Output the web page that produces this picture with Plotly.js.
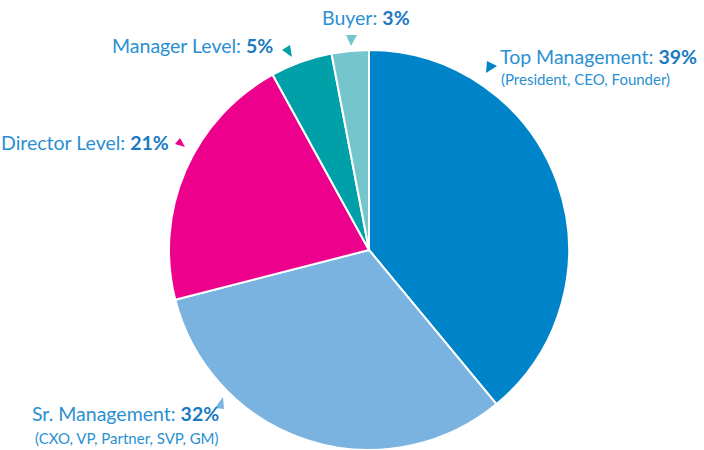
<!DOCTYPE html>
<html>
<head>
<meta charset="utf-8">
<script src="https://cdn.plot.ly/plotly-3.0.1.min.js"></script>
<style>html,body{margin:0;padding:0;background:#fff}#chart{width:704px;height:450px}</style>
</head>
<body>
<div id="chart"></div>
<script>
var categories = ["Top Management", "Sr. Management", "Director Level", "Manager Level", "Buyer"];
var values = [39, 32, 21, 5, 3];
var subLabels = ["(President, CEO, Founder)", "(CXO, VP, Partner, SVP, GM)", "", "", ""];
var colors = ["#0084C9", "#7AB2E0", "#EC008C", "#00A0A8", "#74C6CC"];

var textColor = "#2A90D2";
var boldColor = "#1B7AC2";
var font = "Lato, 'Open Sans', sans-serif";

// label placements (layout only), pixel coords on an overlay axis
var labelPos = [
  {x: 499, y: 56, anchor: "left", tri: [[487,61],[497,66],[486,73]], sub: {x: 500, y: 79}},
  {x: 220, y: 413, anchor: "right", tri: [[223,397],[215,408],[224,409]], sub: {x: 220, y: 438}},
  {x: 170, y: 142, anchor: "right", tri: [[180,138],[175,144],[185,147]]},
  {x: 274, y: 45, anchor: "right", tri: [[282,50],[290,45],[292,57]]},
  {x: 366, y: 17, anchor: "center", tri: [[346,35],[357,35],[351,46]]}
];

var annotations = [];
var shapes = [];
categories.forEach(function(c, i) {
  var p = labelPos[i];
  annotations.push({
    x: p.x, y: p.y, xref: "x", yref: "y", xanchor: p.anchor, yanchor: "middle",
    showarrow: false, borderpad: 0,
    text: c + ": <b style='color:" + boldColor + "'>" + values[i] + "%</b>",
    font: {family: font, size: 19.5, color: textColor}
  });
  if (subLabels[i]) {
    annotations.push({
      x: p.sub.x, y: p.sub.y, xref: "x", yref: "y", xanchor: p.anchor, yanchor: "middle",
      showarrow: false, borderpad: 0, text: subLabels[i],
      font: {family: font, size: 15, color: textColor}
    });
  }
  var t = p.tri;
  shapes.push({
    type: "path", xref: "x", yref: "y",
    path: "M" + t[0][0] + "," + t[0][1] + " L" + t[1][0] + "," + t[1][1] + " L" + t[2][0] + "," + t[2][1] + " Z",
    fillcolor: colors[i], line: {width: 0}
  });
});

var pie = {
  type: "pie",
  labels: categories,
  values: values,
  sort: false,
  direction: "clockwise",
  rotation: 0,
  textinfo: "none",
  hoverinfo: "label+percent",
  marker: {colors: colors, line: {color: "#ffffff", width: 2}},
  domain: {x: [169/704, 569/704], y: [0, 400/450]},
  showlegend: false
};

var overlay = {
  type: "scatter", x: [], y: [], mode: "markers", hoverinfo: "skip", showlegend: false
};

var layout = {
  width: 704, height: 450,
  margin: {l: 0, r: 0, t: 0, b: 0},
  paper_bgcolor: "#ffffff", plot_bgcolor: "rgba(0,0,0,0)",
  showlegend: false,
  xaxis: {range: [0, 704], visible: false, fixedrange: true},
  yaxis: {range: [450, 0], visible: false, fixedrange: true},
  annotations: annotations,
  shapes: shapes
};

Plotly.newPlot("chart", [pie, overlay], layout, {displayModeBar: false, staticPlot: true});
</script>
</body>
</html>
